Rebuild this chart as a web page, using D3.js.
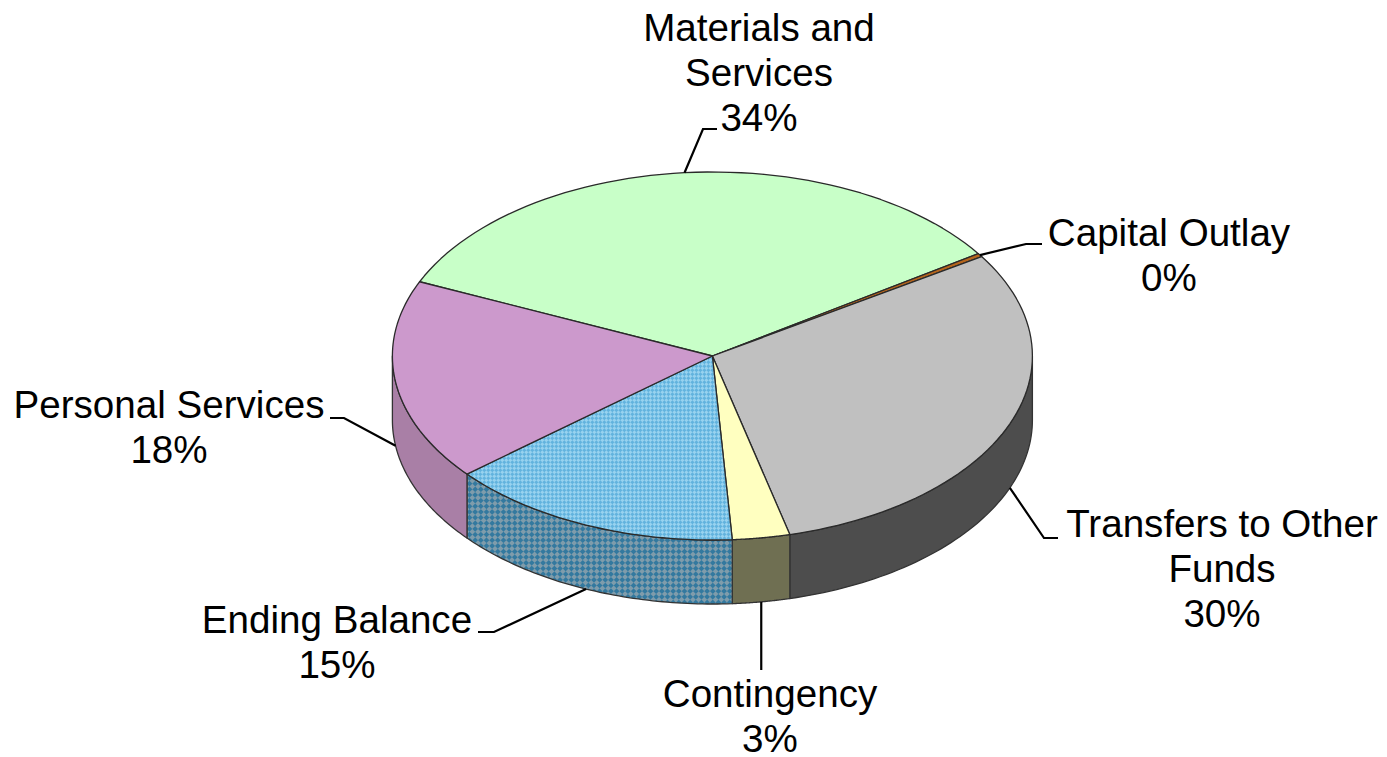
<!DOCTYPE html>
<html><head><meta charset="utf-8">
<script src="https://cdnjs.cloudflare.com/ajax/libs/d3/7.8.5/d3.min.js"></script>
<style>html,body{margin:0;padding:0;background:#fff}svg{display:block}</style>
</head><body><svg id="c" width="1387" height="757"></svg>
<script>
const categories = ["Materials and Services","Capital Outlay","Transfers to Other Funds","Contingency","Ending Balance","Personal Services"];
const values = [34.0,0.3,30.2,2.9,14.9,17.7];
const percentLabels = ["34%","0%","30%","3%","15%","18%"];
const labelLines = [["Materials and","Services"],["Capital Outlay"],["Transfers to Other","Funds"],["Contingency"],["Ending Balance"],["Personal Services"]];
const topColors = ["#c8ffc8","#b5651d","#c0c0c0","#ffffc0","url(#hatchTop)","#cc99cc"];
const sideColors = ["#8fb38f","#7a4514","#4d4d4d","#6f6f52","url(#hatchSide)","#a97fa6"];
const labelX = [759,1169,1222,770,337,169];
const labelY = [41,246,537,707,633,418];
const elbows = [[703,129,717,129],[1026,244,1042,244],[1044,538,1058,538],[null,640,null,670],[494,632,478,632],[344,418,330,418]];

const cx=712.4, cy=356, rx=320, ry=184, depth=64, tau=2*Math.PI;
const svg=d3.select("#c");
const defs=svg.append("defs");
function hatch(id,a,b,s){
  const p=defs.append("pattern").attr("id",id).attr("width",s).attr("height",s).attr("patternUnits","userSpaceOnUse").attr("patternTransform","rotate(45)");
  p.append("rect").attr("width",s).attr("height",s).attr("fill",a);
  p.append("rect").attr("width",s/2).attr("height",s/2).attr("fill",b);
  p.append("rect").attr("x",s/2).attr("y",s/2).attr("width",s/2).attr("height",s/2).attr("fill",b);
}
hatch("hatchTop","#97d2ef","#62b3de",5.66);
hatch("hatchSide","#7f9cab","#33799f",8);

const start=293.8/360*tau;
const arcs=d3.pie().sort(null).startAngle(start).endAngle(start+tau).value(d=>d)(values);
const px=t=>cx+rx*Math.sin(t), py=t=>cy-ry*Math.cos(t);
const line=d3.line();
const arcPts=(a,b,dy=0)=>d3.range(0,61).map(i=>{const t=a+(b-a)*i/60;return [px(t),py(t)+dy];});

const wallG=svg.append("g");
arcs.forEach((d,i)=>{
  [0,tau].forEach(off=>{
    const a=Math.max(d.startAngle,off+tau/4), b=Math.min(d.endAngle,off+3*tau/4);
    if(b<=a) return;
    const pts=arcPts(a,b).concat(arcPts(b,a,depth));
    wallG.append("path").attr("d",line(pts)+"Z").attr("fill",sideColors[i]).attr("stroke","#333").attr("stroke-width",1.3).attr("stroke-linejoin","round");
  });
});
const topG=svg.append("g");
arcs.forEach((d,i)=>{
  const pts=[[cx,cy]].concat(arcPts(d.startAngle,d.endAngle));
  topG.append("path").attr("d",line(pts)+"Z").attr("fill",topColors[i]).attr("stroke","#2a2a2a").attr("stroke-width",1.3).attr("stroke-linejoin","round");
});
const font="'Liberation Sans',Arial,sans-serif";
arcs.forEach((d,i)=>{
  const m=(d.startAngle+d.endAngle)/2, front=Math.cos(m)<0;
  const e=elbows[i];
  const p0=[px(m),py(m)+(front?depth:0)];
  const x1=e[0]===null?p0[0]:e[0], x2=e[2]===null?p0[0]:e[2];
  svg.append("path").attr("d",line([p0,[x1,e[1]],[x2,e[3]]])).attr("fill","none").attr("stroke","#000").attr("stroke-width",2.2);
  const t=svg.append("text").attr("text-anchor","middle").attr("font-family",font).attr("font-size",38.6).attr("fill","#000");
  labelLines[i].concat([percentLabels[i]]).forEach((s,k)=>{
    t.append("tspan").attr("x",labelX[i]).attr("y",labelY[i]+k*45).text(s);
  });
});
</script></body></html>
